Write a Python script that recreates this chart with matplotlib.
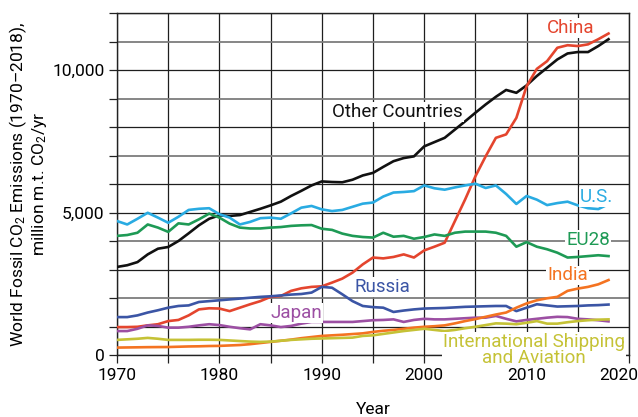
import numpy as np
import matplotlib.pyplot as plt
import matplotlib.transforms as mtransforms

plt.rcParams['font.family'] = ['Roboto', 'DejaVu Sans']
plt.rcParams['mathtext.fontset'] = 'custom'
plt.rcParams['mathtext.rm'] = 'Roboto'
plt.rcParams['mathtext.default'] = 'regular'

# DATA (million metric tons CO2 per year)
years = list(range(1970, 2019))

other = [3090, 3150, 3260, 3530, 3730, 3790, 4000, 4270, 4550, 4780,
         4900, 4880, 4910, 5020, 5130, 5250, 5380, 5580, 5760, 5950,
         6090, 6070, 6060, 6150, 6300, 6390, 6600, 6800, 6910, 6970,
         7320, 7470, 7620, 7910, 8200, 8500, 8790, 9060, 9300, 9200,
         9460, 9790, 10080, 10370, 10580, 10630, 10630, 10840, 11080]

china = [980, 980, 990, 1040, 1080, 1190, 1230, 1390, 1600, 1640,
         1630, 1540, 1660, 1780, 1890, 2040, 2070, 2250, 2340, 2390,
         2410, 2540, 2680, 2890, 3180, 3420, 3390, 3440, 3530, 3420,
         3670, 3800, 3940, 4700, 5460, 6270, 6970, 7620, 7740, 8320,
         9430, 10040, 10310, 10780, 10870, 10840, 10900, 11080, 11280]

us = [4700, 4580, 4780, 4990, 4820, 4640, 4850, 5090, 5130, 5150,
      4940, 4820, 4580, 4670, 4800, 4820, 4780, 4970, 5170, 5230,
      5110, 5050, 5090, 5200, 5310, 5350, 5560, 5700, 5720, 5750,
      5950, 5850, 5800, 5880, 5950, 6010, 5860, 5950, 5650, 5300,
      5580, 5450, 5260, 5330, 5380, 5250, 5150, 5120, 5290]

eu28 = [4180, 4210, 4290, 4580, 4470, 4320, 4620, 4580, 4760, 4960,
        4820, 4610, 4470, 4440, 4440, 4470, 4490, 4530, 4550, 4560,
        4430, 4390, 4260, 4180, 4140, 4120, 4290, 4150, 4180, 4080,
        4140, 4230, 4180, 4290, 4330, 4330, 4330, 4290, 4180, 3800,
        3960, 3800, 3710, 3590, 3420, 3440, 3470, 3500, 3470]

russia = [1330, 1330, 1390, 1490, 1570, 1660, 1720, 1740, 1860, 1890,
          1920, 1950, 1980, 2010, 2040, 2060, 2090, 2120, 2140, 2190,
          2390, 2360, 2130, 1890, 1720, 1680, 1660, 1510, 1560, 1600,
          1630, 1640, 1650, 1670, 1690, 1700, 1710, 1720, 1720, 1540,
          1660, 1780, 1740, 1700, 1710, 1720, 1740, 1750, 1770]

japan = [840, 840, 920, 1040, 1020, 960, 960, 990, 1040, 1080,
         1050, 990, 940, 900, 1080, 1040, 980, 1020, 1100, 1160,
         1160, 1160, 1160, 1160, 1190, 1220, 1230, 1250, 1160, 1230,
         1270, 1250, 1250, 1270, 1290, 1310, 1310, 1370, 1270, 1180,
         1230, 1270, 1310, 1340, 1330, 1270, 1250, 1220, 1180]

india = [260, 265, 270, 275, 278, 280, 290, 300, 305, 315,
         320, 335, 350, 380, 420, 460, 500, 540, 590, 630,
         670, 690, 710, 735, 760, 810, 850, 880, 920, 960,
         990, 1010, 1040, 1110, 1190, 1260, 1340, 1420, 1490, 1660,
         1810, 1920, 1990, 2040, 2250, 2330, 2390, 2480, 2630]

shipping = [530, 550, 570, 600, 570, 530, 530, 530, 535, 535,
            530, 510, 490, 470, 460, 470, 500, 530, 550, 570,
            580, 590, 600, 610, 670, 690, 740, 790, 840, 880,
            920, 880, 840, 880, 940, 990, 1050, 1110, 1100, 1080,
            1130, 1190, 1100, 1100, 1150, 1190, 1220, 1240, 1250]

series = [
    ("Other Countries", other, "#111111"),
    ("China", china, "#E4452E"),
    ("U.S.", us, "#29ABE2"),
    ("EU28", eu28, "#1E9A55"),
    ("Russia", russia, "#3B55A5"),
    ("Japan", japan, "#9C4FA3"),
    ("India", india, "#F47321"),
    ("International Shipping", shipping, "#C5C236"),
]

# LABEL POSITIONS (year, value)
labels = [
    ("China", 2014.3, 11470, "#E4452E"),
    ("Other Countries", 1997.4, 8530, "#111111"),
    ("U.S.", 2016.8, 5540, "#29ABE2"),
    ("EU28", 2016.0, 4040, "#1E9A55"),
    ("India", 2014.0, 2790, "#F47321"),
    ("Russia", 1995.9, 2390, "#3B55A5"),
    ("Japan", 1987.5, 1470, "#9C4FA3"),
    ("International Shipping\nand Aviation", 2010.7, 170, "#C5C236"),
]

# TICKS
x_ticks = list(range(1970, 2021, 5))
x_tick_labels = [str(x) if x % 10 == 0 else "" for x in x_ticks]
y_ticks = list(range(0, 12001, 1000))
y_tick_labels = {0: "0", 5000: "5,000", 10000: "10,000"}
gray_rows = [2000, 4000, 7000, 9000, 11000]

fig = plt.figure(figsize=(6.38, 4.17), dpi=100)
ax = fig.add_axes([117 / 638, 62 / 417, 512 / 638, 342 / 417])

# LINES
for name, values, color in series:
    ax.plot(years, values, color=color, linewidth=1.9,
            solid_joinstyle="round", zorder=3)

# LABELS
for text, x, y, color in labels:
    ax.text(x, y, text, color=color, fontsize=13.5, ha="center", va="center",
            zorder=5, clip_on=False, linespacing=0.85,
            bbox=dict(facecolor="white", edgecolor="none", pad=0.5))

ax.set_xlim(1970, 2020)
ax.set_ylim(0, 12000)

ax.set_xticks(x_ticks)
ax.set_xticklabels(x_tick_labels)
ax.set_yticks(y_ticks)
ax.set_yticklabels([y_tick_labels.get(y, "") for y in y_ticks])

# GRID LINES
ax.set_axisbelow(True)
ax.grid(True, color="#1e1e1e", linewidth=0.9)

for y, line in zip(y_ticks, ax.yaxis.get_gridlines()):
    if y in gray_rows:
        line.set_color("#7d7d7d")
        line.set_linewidth(1.3)

ax.tick_params(direction="out", length=6, width=0.9,
               color="#222222", labelsize=12.5, pad=3)

# SHIFT LAST X LABEL INSIDE THE FIGURE
offset = mtransforms.ScaledTranslation(-10 / 100, 0, fig.dpi_scale_trans)
last = ax.get_xticklabels()[-1]
last.set_transform(last.get_transform() + offset)

for spine in ax.spines.values():
    spine.set_color("#222222")
    spine.set_linewidth(1.0)

ax.set_xlabel("Year", fontsize=12.5, labelpad=14)
ax.set_ylabel("World Fossil CO$_2$ Emissions (1970\u20132018),\nmillion m.t. CO$_2$/yr",
              fontsize=12.5, labelpad=2, linespacing=1.1)

plt.savefig("out.png", dpi=100)
plt.close()
